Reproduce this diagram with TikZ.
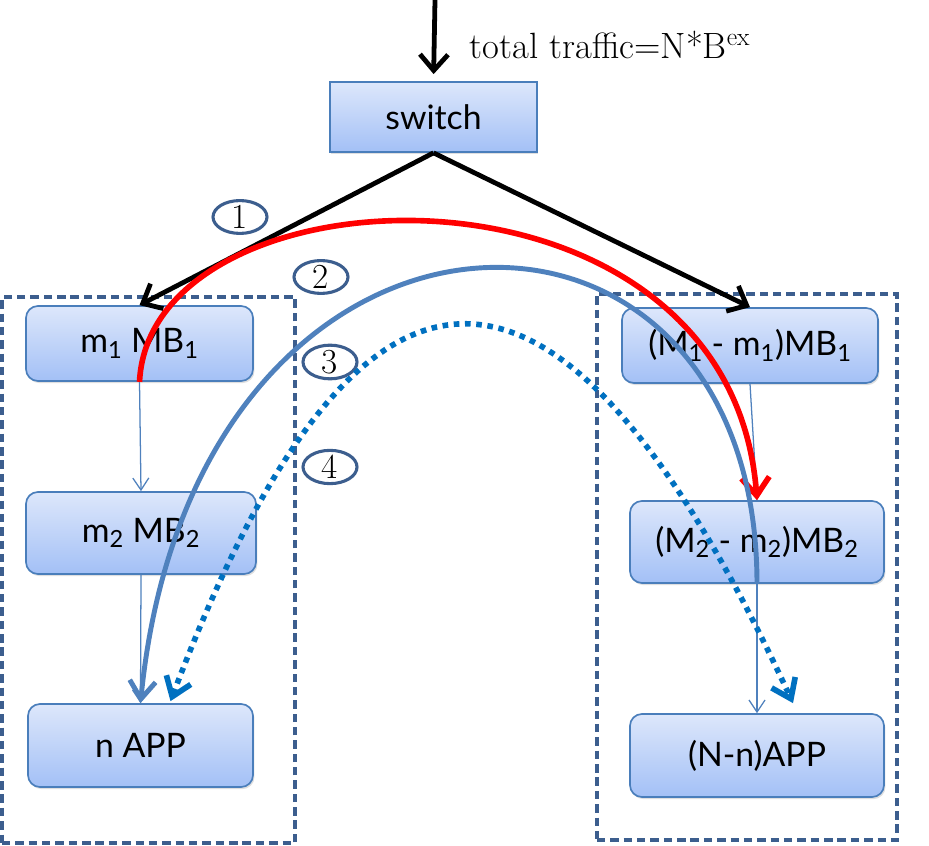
\documentclass[tikz,border=0pt]{standalone}
\usepackage{fontspec}
\usetikzlibrary{arrows.meta,shapes.geometric,shadows,calc}
\newfontfamily\boxfont{Lato}
\definecolor{boxline}{HTML}{4A7EBB}
\definecolor{boxtop}{HTML}{DDE7FB}
\definecolor{boxbot}{HTML}{A3C0F6}
\definecolor{groupline}{HTML}{3C5E8E}
\definecolor{flowblue}{HTML}{4F81BD}
\definecolor{dotblue}{HTML}{0070C0}

\begin{document}
\begin{tikzpicture}[x=0.025cm,y=-0.025cm,
    box/.style={draw=boxline, line width=1.2pt, top color=boxtop, bottom color=boxbot,
      rounded corners=0.3cm, inner sep=0pt, font=\boxfont\fontsize{24}{28}\selectfont,
      drop shadow={opacity=0.25, shadow xshift=1pt, shadow yshift=-1.5pt}},
    group/.style={draw=groupline, line width=2.8pt, dash pattern=on 6pt off 3.5pt},
    num/.style={ellipse, draw=groupline, line width=2.2pt, minimum width=1.35cm,
      minimum height=0.8cm, inner sep=0pt, font=\fontsize{25}{26}\selectfont},
    feed/.style={black, line width=3.4pt, -{Straight Barb[length=4mm,width=7mm]}},
    link/.style={flowblue, line width=0.9pt, -{Straight Barb[length=3mm,width=4mm]}}]
  \useasboundingbox (0,0) rectangle (929,846);

  \node[box, rounded corners=0pt, minimum width=5.175cm, minimum height=1.75cm] (sw) at (433.5,117) {switch};
  \node[box, minimum width=5.675cm, minimum height=1.875cm] (la) at (139.5,343.5) {m\textsubscript{1} MB\textsubscript{1}};
  \node[box, minimum width=5.75cm, minimum height=2.05cm] (lb) at (141,533) {m\textsubscript{2} MB\textsubscript{2}};
  \node[box, minimum width=5.625cm, minimum height=2.075cm] (lapp) at (140.5,745.5) {n APP};
  \node[box, minimum width=6.4cm, minimum height=1.875cm] (ra) at (750,345.5) {(M\textsubscript{1} - m\textsubscript{1})MB\textsubscript{1}};
  \node[box, minimum width=6.35cm, minimum height=2.05cm] (rb) at (757,542) {(M\textsubscript{2} - m\textsubscript{2})MB\textsubscript{2}};
  \node[box, minimum width=6.35cm, minimum height=2.075cm] (rapp) at (757,755.5) {(N-n)APP};

  \node[group, minimum width=7.325cm, minimum height=13.65cm] (lgrp) at (148.5,570) {};
  \node[group, minimum width=7.5cm, minimum height=13.65cm] (rgrp) at (747,567) {};

  \coordinate (in) at (435,0);
  \node[anchor=west, font=\fontsize{26}{28}\selectfont] (tot) at (465,45) {total traffic=N*B\textsuperscript{ex}};

  \node[num] (n1) at (240,217) {1};
  \node[num] (n2) at (321,277) {2};
  \node[num] (n3) at (330,362) {3};
  \node[num] (n4) at (330,467) {4};

  \draw[feed, shorten >=5pt] (in) -- (sw.north);
  \draw[feed] (sw.south) -- (la.north);
  \draw[feed] (sw.south) -- (ra.north);

  \draw[link] (la.south) -- (lb.north);
  \draw[link] (lb.south) -- (lapp.north);
  \draw[link] (ra.south) -- (rb.north);
  \draw[link] (rb.south) -- (rapp.north);

  \coordinate (d1) at ($(lapp.north)+(30,-2)$);
  \coordinate (d2) at ($(rapp.north)+(36,-10)$);

  \draw[red, line width=4pt, -{Straight Barb[length=4.5mm,width=7mm]}]
    (la.south) .. controls (150,160) and (730,140) .. (rb.north);
  \draw[flowblue, line width=3.5pt, -{Straight Barb[length=4.5mm,width=6.5mm]}]
    (rb.south) .. controls (757,140) and (195,150) .. (lapp.north);
  \draw[dotblue, line width=4pt, dash pattern=on 4pt off 4pt,
      {Straight Barb[length=4.5mm,width=6.5mm]}-{Straight Barb[length=4.5mm,width=6.5mm]}]
    (d1) .. controls (360,200) and (560,200) .. (d2);
\end{tikzpicture}
\end{document}
